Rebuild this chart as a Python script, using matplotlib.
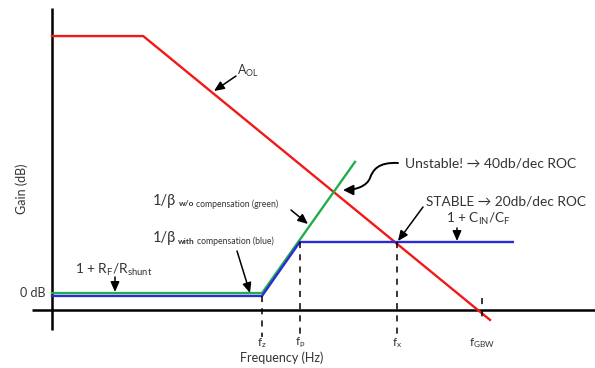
import matplotlib
matplotlib.use('Agg')
import matplotlib.pyplot as plt
from matplotlib.patches import FancyArrowPatch
from matplotlib.path import Path

plt.rcParams['font.family'] = ['Lato', 'DejaVu Sans']
plt.rcParams['mathtext.fontset'] = 'custom'
plt.rcParams['mathtext.rm'] = 'Lato'

# Bode sketch: x in decades of frequency, y in dB
aol_x = [0, 1.52, 7.3]
aol_y = [113.2, 113.2, -4.1]

green_x = [0, 3.5, 5.05]          # 1/beta without compensation
green_y = [7.0, 7.0, 61.2]

blue_x = [0, 3.5, 4.13, 7.68]     # 1/beta with compensation
blue_y = [5.8, 5.8, 28.1, 28.1]

freq_names = [r'f$\mathrm{_z}$', r'f$\mathrm{_p}$', r'f$\mathrm{_x}$', r'f$\mathrm{_{GBW}}$']
freq_pos = [3.5, 4.13, 5.75, 7.17]
freq_top = [5.8, 28.1, 28.1, 5.0]
freq_bottom = [-11.2, -11.2, -11.2, -4.0]

RED = '#f21818'
GREEN = '#1fae4b'
BLUE = '#2a2ad8'

fig = plt.figure(figsize=(5.95, 3.68), dpi=100)
ax = fig.add_axes([0, 0, 1, 1])
ax.set_xlim(-52 / 60, (595 - 52) / 60)
ax.set_ylim((310 - 368) / 2.42, 310 / 2.42)
ax.axis('off')

# axes of the sketch
ax.plot([0, 0], [-8.3, 125], color='black', lw=1.8, solid_capstyle='butt')
ax.plot([-0.33, 9.05], [0, 0], color='black', lw=1.8, solid_capstyle='butt')

ax.plot(aol_x, aol_y, color=RED, lw=1.7)
ax.plot(green_x, green_y, color=GREEN, lw=1.7)
ax.plot(blue_x, blue_y, color=BLUE, lw=1.7)

for name, f, top, bot in zip(freq_names, freq_pos, freq_top, freq_bottom):
    ax.plot([f, f], [top, bot], color='black', lw=1.1, ls=(0, (4, 4)))
    ax.text(f, -13.6, name, ha='center', va='center', fontsize=8.5, color='#333333')

# overlay in pixel coordinates for the labels and arrows
an = fig.add_axes([0, 0, 1, 1])
an.set_xlim(0, 595)
an.set_ylim(368, 0)
an.axis('off')

txt = dict(color='#333333', va='center')
arrow = dict(arrowstyle='-|>,head_length=0.5,head_width=0.22', color='black', lw=1.1,
             mutation_scale=12, shrinkA=0, shrinkB=0)

an.text(22, 189, 'Gain (dB)', rotation=90, ha='center', fontsize=9, **txt)
an.text(282, 358, 'Frequency (Hz)', ha='center', fontsize=9, **txt)
an.text(46, 293, '0 dB', ha='right', fontsize=9, **txt)

an.text(237, 71, r'A$\mathrm{_{OL}}$', ha='left', fontsize=9, **txt)
an.annotate('', xy=(214, 91), xytext=(236, 76), arrowprops=arrow)

an.text(405, 163, 'Unstable! \u2192 40db/dec ROC', ha='left', fontsize=10, **txt)
curve = Path([(398, 163), (378, 162), (373, 170), (370, 178), (367, 186), (356, 190), (343, 190)],
             [Path.MOVETO, Path.CURVE4, Path.CURVE4, Path.CURVE4, Path.CURVE4, Path.CURVE4, Path.CURVE4])
an.add_patch(FancyArrowPatch(path=curve, arrowstyle='-|>,head_length=6,head_width=3',
                             color='black', lw=1.4))

an.text(426, 202, 'STABLE \u2192 20db/dec ROC', ha='left', fontsize=9.8, **txt)
an.annotate('', xy=(398, 241), xytext=(423, 207), arrowprops=arrow)

an.text(446, 219, r'1 + C$\mathrm{_{IN}}$/C$\mathrm{_F}$', ha='left', fontsize=9.8, **txt)
an.annotate('', xy=(457, 241), xytext=(457, 228), arrowprops=arrow)

an.text(153, 201, '1/\u03b2', ha='left', fontsize=10.5, **txt)
an.text(179, 204, 'w/o', ha='left', fontsize=6, fontweight='bold', **txt)
an.text(196, 204, 'compensation (green)', ha='left', fontsize=6.2, **txt)
an.annotate('', xy=(308, 224), xytext=(291, 210), arrowprops=arrow)

an.text(153, 238, '1/\u03b2', ha='left', fontsize=10.5, **txt)
an.text(178, 241, 'with', ha='left', fontsize=6, fontweight='bold', **txt)
an.text(197, 241, 'compensation (blue)', ha='left', fontsize=6.2, **txt)
an.annotate('', xy=(250, 293), xytext=(237, 251), arrowprops=arrow)

an.text(75, 270, r'1 + R$\mathrm{_F}$/R$\mathrm{_{shunt}}$', ha='left', fontsize=9.8, **txt)
an.annotate('', xy=(115, 292), xytext=(115, 277), arrowprops=arrow)

fig.savefig('out.png', dpi=100)
